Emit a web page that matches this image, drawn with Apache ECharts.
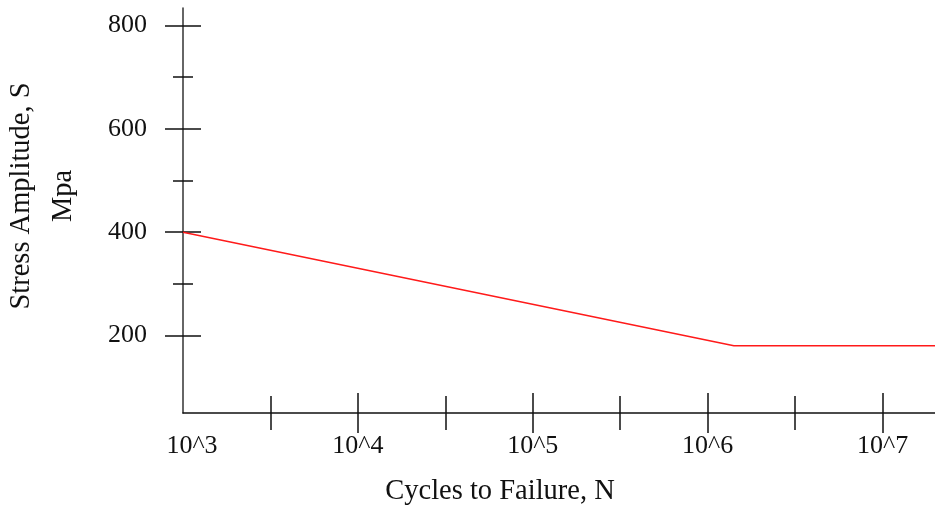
<!DOCTYPE html>
<html>
<head>
<meta charset="utf-8">
<script src="https://cdn.jsdelivr.net/npm/echarts@6/dist/echarts.min.js"></script>
<style>
  html, body { margin: 0; padding: 0; background: #fff; }
  #chart { width: 935px; height: 508px; }
</style>
</head>
<body>
<div id="chart"></div>
<script>
// S-N curve, x values are the exponents of 10 (cycles to failure)
const cycleExponents = [3, 6.15, 7.3];
const stressValues = [400, 180, 180];

const xLabelExponents = [3, 4, 5, 6, 7];
const xMajorTicks = [4, 5, 6, 7];
const xMinorTicks = [3.5, 4.5, 5.5, 6.5];
const yLabelValues = [200, 400, 600, 800];
const yMajorTicks = [200, 400, 600, 800];
const yMinorTicks = [300, 500, 700];

const serif = '"Liberation Serif", "Times New Roman", serif';
const black = '#111';

function xAxisOf(ticks, len, inside, main) {
  return {
    type: 'value',
    min: 3,
    max: 7.3,
    position: 'bottom',
    splitLine: { show: false },
    axisLine: { show: main, onZero: false, lineStyle: { color: black, width: 1.5 } },
    axisTick: { show: true, inside: inside, length: len, customValues: ticks,
      lineStyle: { color: black, width: 1.5 } },
    axisLabel: main ? {
      show: true, customValues: xLabelExponents, margin: 20,
      fontFamily: serif, fontSize: 26, color: black,
      // first label sits a little right of the corner
      formatter: v => v === 3 ? '{first|10^' + v + '}' : '10^' + v,
      rich: { first: { fontFamily: serif, fontSize: 26, color: black, padding: [0, 0, 0, 18] } }
    } : { show: false }
  };
}

function yAxisOf(ticks, len, inside, main) {
  return {
    type: 'value',
    min: 50,
    max: 834,
    position: 'left',
    splitLine: { show: false },
    axisLine: { show: main, onZero: false, lineStyle: { color: '#333', width: 1.5 } },
    axisTick: { show: true, inside: inside, length: len, customValues: ticks,
      lineStyle: { color: black, width: 1.5 } },
    axisLabel: main ? {
      show: true, customValues: yLabelValues, margin: 36,
      fontFamily: serif, fontSize: 26, color: black
    } : { show: false }
  };
}

const chart = echarts.init(document.getElementById('chart'), null, { renderer: 'canvas' });
chart.setOption({
  animation: false,
  backgroundColor: '#fff',
  grid: { left: 183, right: 0, top: 8, bottom: 95, containLabel: false },
  xAxis: [
    xAxisOf(xMajorTicks, 20, false, true),
    xAxisOf(xMajorTicks, 20, true, false),
    xAxisOf(xMinorTicks, 17, false, false),
    xAxisOf(xMinorTicks, 17, true, false)
  ],
  yAxis: [
    yAxisOf(yMajorTicks, 18, false, true),
    yAxisOf(yMajorTicks, 18, true, false),
    yAxisOf(yMinorTicks, 10, false, false),
    yAxisOf(yMinorTicks, 10, true, false)
  ],
  series: [{
    type: 'line',
    xAxisIndex: 0,
    yAxisIndex: 0,
    data: cycleExponents.map((e, i) => [e, stressValues[i]]),
    symbol: 'none',
    lineStyle: { color: '#ff1a1a', width: 1.5 }
  }],
  graphic: [
    {
      type: 'text',
      x: 500,
      y: 492,
      style: {
        text: 'Cycles to Failure, N',
        font: '28.5px ' + serif,
        fill: black,
        textAlign: 'center',
        textVerticalAlign: 'middle'
      }
    },
    {
      type: 'text',
      x: 43,
      y: 196,
      rotation: Math.PI / 2,
      style: {
        text: 'Stress Amplitude, S\nMpa',
        font: '28.5px ' + serif,
        fill: black,
        lineHeight: 42,
        textAlign: 'center',
        textVerticalAlign: 'middle'
      }
    }
  ]
});
</script>
</body>
</html>
